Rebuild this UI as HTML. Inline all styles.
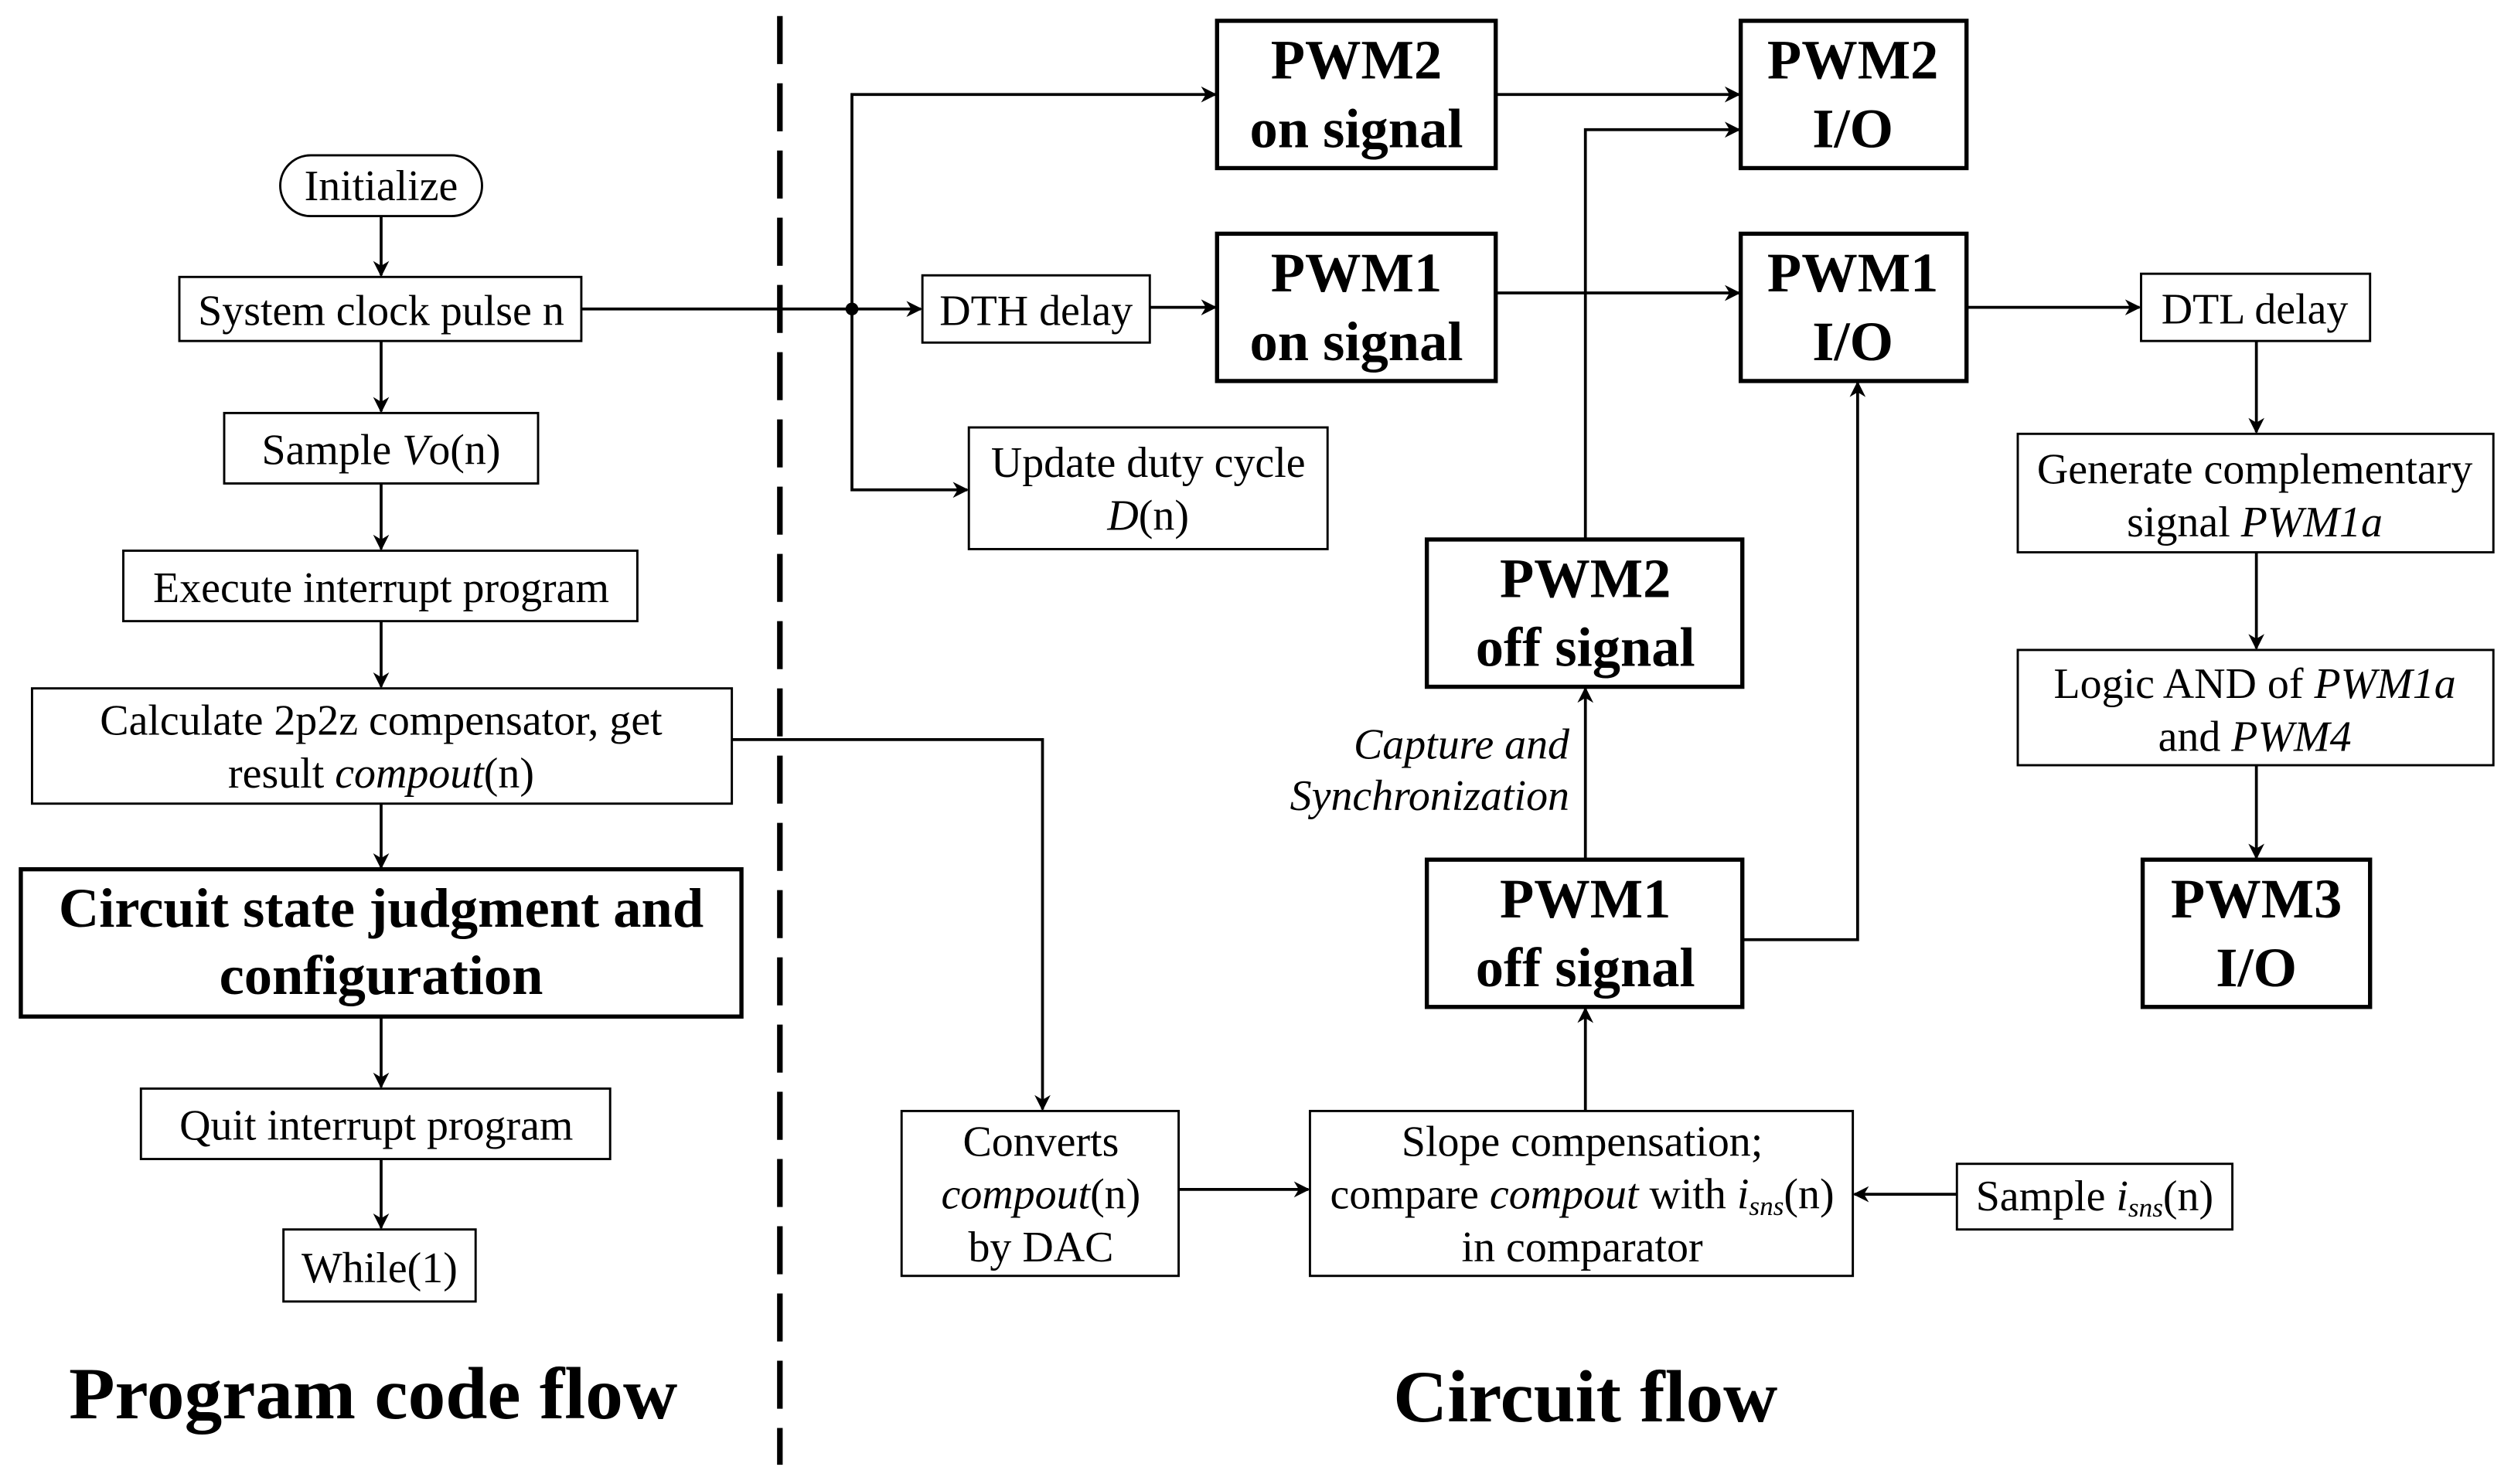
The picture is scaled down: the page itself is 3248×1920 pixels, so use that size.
<!DOCTYPE html>
<html><head><meta charset="utf-8"><style>
html,body{margin:0;padding:0;background:#fff}
svg{display:block}
text{font-family:"Liberation Serif","DejaVu Serif",serif;fill:#000}
.r{font-size:27px;text-anchor:middle}
.b{font-size:35px;font-weight:bold;text-anchor:middle}
.t{font-size:46px;font-weight:bold;text-anchor:middle}
.thin{fill:#fff;stroke:#000;stroke-width:1.4}
.thick{fill:#fff;stroke:#000;stroke-width:2.6}
.ln{fill:none;stroke:#000;stroke-width:1.8}
</style></head><body>
<svg width="3248" height="1920" viewBox="0 0 1568 927" preserveAspectRatio="none" xmlns="http://www.w3.org/2000/svg" font-family="Liberation Serif, serif">
<defs><marker id="a" markerWidth="10" markerHeight="10" refX="9" refY="5" orient="auto" markerUnits="userSpaceOnUse"><path d="M0,0 L10,5 L0,10 L3,5 Z" fill="#000"/></marker></defs>
<rect width="1568" height="927" fill="#fff"/>
<!-- left flow -->
<rect class="thin" x="175" y="97" width="126" height="38" rx="19"/>
<text class="r" x="238" y="125">Initialize</text>
<rect class="thin" x="112" y="173" width="251" height="40"/>
<text class="r" x="238" y="203">System clock pulse n</text>
<rect class="thin" x="140" y="258" width="196" height="44"/>
<text class="r" x="238" y="290">Sample <tspan font-style="italic">V</tspan>o(n)</text>
<rect class="thin" x="77" y="344" width="321" height="44"/>
<text class="r" x="238" y="376">Execute interrupt program</text>
<rect class="thin" x="20" y="430" width="437" height="72"/>
<text class="r" x="238" y="459">Calculate 2p2z compensator, get</text>
<text class="r" x="238" y="492">result <tspan font-style="italic">compout</tspan>(n)</text>
<rect class="thick" x="13" y="543" width="450" height="92"/>
<text class="b" x="238" y="579">Circuit state judgment and</text>
<text class="b" x="238" y="621">configuration</text>
<rect class="thin" x="88" y="680" width="293" height="44"/>
<text class="r" x="235" y="712">Quit interrupt program</text>
<rect class="thin" x="177" y="768" width="120" height="45"/>
<text class="r" x="237" y="801">While(1)</text>
<text class="t" x="233" y="886" textLength="380" lengthAdjust="spacingAndGlyphs">Program code flow</text>
<path class="ln" d="M238,135 V172" marker-end="url(#a)"/>
<path class="ln" d="M238,213 V257" marker-end="url(#a)"/>
<path class="ln" d="M238,302 V343" marker-end="url(#a)"/>
<path class="ln" d="M238,388 V429" marker-end="url(#a)"/>
<path class="ln" d="M238,502 V542" marker-end="url(#a)"/>
<path class="ln" d="M238,635 V679" marker-end="url(#a)"/>
<path class="ln" d="M238,724 V767" marker-end="url(#a)"/>
<!-- dashed divider -->
<line x1="487" y1="10" x2="487" y2="915" stroke="#000" stroke-width="3.5" stroke-dasharray="30,12"/>
<!-- right flow -->
<path class="ln" d="M363,193 H575" marker-end="url(#a)"/>
<circle cx="532" cy="193" r="4"/>
<path class="ln" d="M532,193 V59 H759" marker-end="url(#a)"/>
<path class="ln" d="M532,193 V306 H604" marker-end="url(#a)"/>
<rect class="thin" x="576" y="172" width="142" height="42"/>
<text class="r" x="647" y="203">DTH delay</text>
<path class="ln" d="M718,192 H759" marker-end="url(#a)"/>
<rect class="thin" x="605" y="267" width="224" height="76"/>
<text class="r" x="717" y="298">Update duty cycle</text>
<text class="r" x="717" y="331"><tspan font-style="italic">D</tspan>(n)</text>
<rect class="thick" x="760" y="13" width="174" height="92"/>
<text class="b" x="847" y="49">PWM2</text>
<text class="b" x="847" y="92">on signal</text>
<rect class="thick" x="760" y="146" width="174" height="92"/>
<text class="b" x="847" y="182">PWM1</text>
<text class="b" x="847" y="225">on signal</text>
<rect class="thick" x="1087" y="13" width="141" height="92"/>
<text class="b" x="1157" y="49">PWM2</text>
<text class="b" x="1157" y="92">I/O</text>
<rect class="thick" x="1087" y="146" width="141" height="92"/>
<text class="b" x="1157" y="182">PWM1</text>
<text class="b" x="1157" y="225">I/O</text>
<path class="ln" d="M934,59 H1086" marker-end="url(#a)"/>
<path class="ln" d="M934,183 H1086" marker-end="url(#a)"/>
<path class="ln" d="M990,337 V81 H1086" marker-end="url(#a)"/>
<rect class="thick" x="891" y="337" width="197" height="92"/>
<text class="b" x="990" y="373">PWM2</text>
<text class="b" x="990" y="416">off signal</text>
<text class="r" x="980" y="474" style="text-anchor:end;font-style:italic">Capture and</text>
<text class="r" x="980" y="506" style="text-anchor:end;font-style:italic">Synchronization</text>
<path class="ln" d="M990,537 V430" marker-end="url(#a)"/>
<rect class="thick" x="891" y="537" width="197" height="92"/>
<text class="b" x="990" y="573">PWM1</text>
<text class="b" x="990" y="616">off signal</text>
<path class="ln" d="M1088,587 H1160 V239" marker-end="url(#a)"/>
<path class="ln" d="M1228,192 H1336" marker-end="url(#a)"/>
<rect class="thin" x="1337" y="171" width="143" height="42"/>
<text class="r" x="1408" y="202">DTL delay</text>
<path class="ln" d="M1409,213 V270" marker-end="url(#a)"/>
<rect class="thin" x="1260" y="271" width="297" height="74"/>
<text class="r" x="1408" y="302">Generate complementary</text>
<text class="r" x="1408" y="335">signal <tspan font-style="italic">PWM1a</tspan></text>
<path class="ln" d="M1409,345 V405" marker-end="url(#a)"/>
<rect class="thin" x="1260" y="406" width="297" height="72"/>
<text class="r" x="1408" y="436">Logic AND of <tspan font-style="italic">PWM1a</tspan></text>
<text class="r" x="1408" y="469">and <tspan font-style="italic">PWM4</tspan></text>
<path class="ln" d="M1409,478 V536" marker-end="url(#a)"/>
<rect class="thick" x="1338" y="537" width="142" height="92"/>
<text class="b" x="1409" y="573">PWM3</text>
<text class="b" x="1409" y="616">I/O</text>
<path class="ln" d="M457,462 H651 V693" marker-end="url(#a)"/>
<rect class="thin" x="563" y="694" width="173" height="103"/>
<text class="r" x="650" y="722">Converts</text>
<text class="r" x="650" y="755"><tspan font-style="italic">compout</tspan>(n)</text>
<text class="r" x="650" y="788">by DAC</text>
<path class="ln" d="M736,743 H817" marker-end="url(#a)"/>
<rect class="thin" x="818" y="694" width="339" height="103"/>
<text class="r" x="988" y="722">Slope compensation;</text>
<text class="r" x="988" y="755">compare <tspan font-style="italic">compout</tspan> with <tspan font-style="italic">i</tspan><tspan font-style="italic" font-size="17" dy="4">sns</tspan><tspan dy="-4">(n)</tspan></text>
<text class="r" x="988" y="788">in comparator</text>
<path class="ln" d="M1222,746 H1158" marker-end="url(#a)"/>
<rect class="thin" x="1222" y="727" width="172" height="41"/>
<text class="r" x="1308" y="756">Sample <tspan font-style="italic">i</tspan><tspan font-style="italic" font-size="17" dy="4">sns</tspan><tspan dy="-4">(n)</tspan></text>
<path class="ln" d="M990,694 V630" marker-end="url(#a)"/>
<text class="t" x="990" y="888" textLength="240" lengthAdjust="spacingAndGlyphs">Circuit flow</text>
</svg>
</body></html>
